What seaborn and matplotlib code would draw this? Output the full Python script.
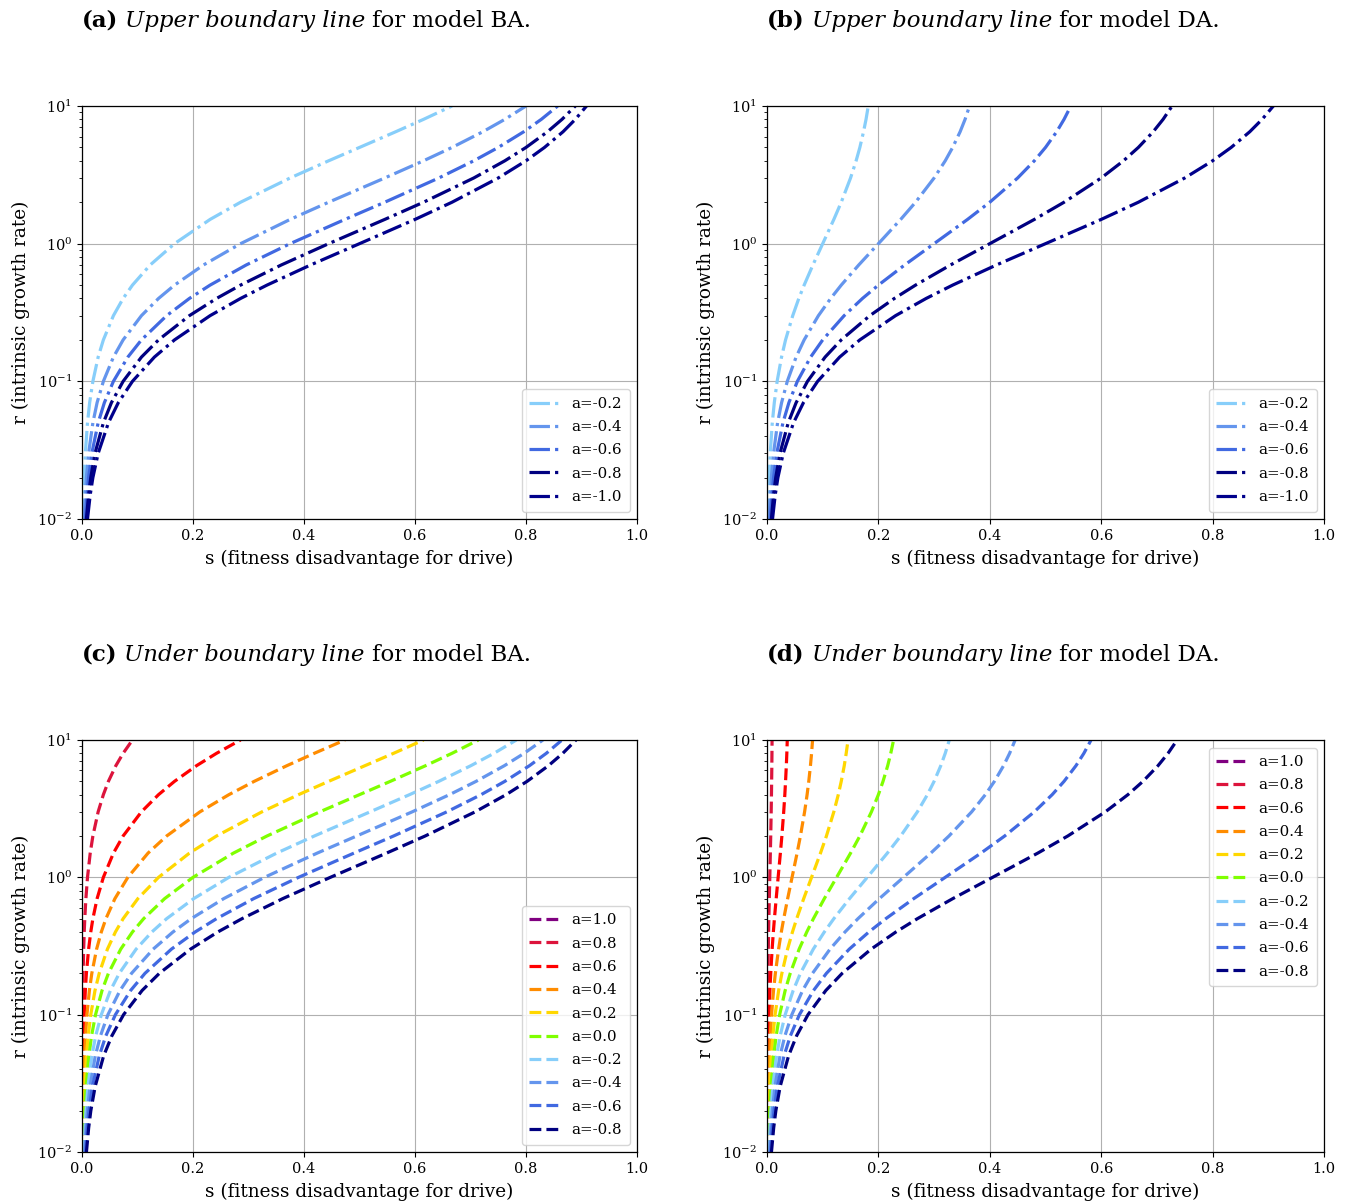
import matplotlib
matplotlib.use("Agg")
import matplotlib.pyplot as plt
import seaborn as sns
import pandas as pd

# r levels (log axis) at which each curve's s position was read
r_levels = [0.01, 0.015, 0.02, 0.03, 0.05, 0.07, 0.1, 0.15, 0.2, 0.3, 0.4, 0.5,
            0.7, 1.0, 1.5, 2.0, 3.0, 4.0, 5.0, 6.5, 8.0, 10.0]

a_upper = [-0.2, -0.4, -0.6, -0.8, -1.0]
a_lower = [1.0, 0.8, 0.6, 0.4, 0.2, 0.0, -0.2, -0.4, -0.6, -0.8]

colors = {1.0: "purple", 0.8: "crimson", 0.6: "red", 0.4: "darkorange", 0.2: "gold",
          0.0: "chartreuse", -0.2: "lightskyblue", -0.4: "cornflowerblue",
          -0.6: "royalblue", -0.8: "navy", -1.0: "darkblue"}

# (a) upper boundary, model BA
s_ba_upper = [
    [0.002, 0.003, 0.004, 0.006, 0.0099, 0.0138, 0.0196, 0.0291, 0.0385, 0.0566, 0.0741,
     0.0909, 0.1228, 0.1667, 0.2308, 0.2857, 0.375, 0.4444, 0.5, 0.5652, 0.6154, 0.6667],
    [0.004, 0.006, 0.0079, 0.0119, 0.0196, 0.0272, 0.0385, 0.0566, 0.0741, 0.1071, 0.1379,
     0.1667, 0.2188, 0.2857, 0.375, 0.4444, 0.5455, 0.6154, 0.6667, 0.7222, 0.7619, 0.8],
    [0.006, 0.0089, 0.0119, 0.0177, 0.0291, 0.0403, 0.0566, 0.0826, 0.1071, 0.1525, 0.1935,
     0.2308, 0.2958, 0.375, 0.4737, 0.5455, 0.6429, 0.7059, 0.75, 0.7959, 0.8276, 0.8571],
    [0.0079, 0.0119, 0.0158, 0.0234, 0.0385, 0.053, 0.0741, 0.1071, 0.1379, 0.1935, 0.2424,
     0.2857, 0.359, 0.4444, 0.5455, 0.6154, 0.7059, 0.7619, 0.8, 0.8387, 0.8649, 0.8889],
    [0.0099, 0.0148, 0.0196, 0.0291, 0.0476, 0.0654, 0.0909, 0.1304, 0.1667, 0.2308, 0.2857,
     0.3333, 0.4118, 0.5, 0.6, 0.6667, 0.75, 0.8, 0.8333, 0.8667, 0.8889, 0.9091],
]

# (b) upper boundary, model DA
s_da_upper = [
    [0.002, 0.003, 0.0039, 0.0058, 0.0095, 0.0131, 0.0182, 0.0261, 0.0333, 0.0462, 0.0571,
     0.0667, 0.0824, 0.1, 0.12, 0.1333, 0.15, 0.16, 0.1667, 0.1733, 0.1778, 0.1818],
    [0.004, 0.0059, 0.0078, 0.0117, 0.019, 0.0262, 0.0364, 0.0522, 0.0667, 0.0923, 0.1143,
     0.1333, 0.1647, 0.2, 0.24, 0.2667, 0.3, 0.32, 0.3333, 0.3467, 0.3556, 0.3636],
    [0.0059, 0.0089, 0.0118, 0.0175, 0.0286, 0.0393, 0.0545, 0.0783, 0.1, 0.1385, 0.1714,
     0.2, 0.2471, 0.3, 0.36, 0.4, 0.45, 0.48, 0.5, 0.52, 0.5333, 0.5455],
    [0.0079, 0.0118, 0.0157, 0.0233, 0.0381, 0.0523, 0.0727, 0.1043, 0.1333, 0.1846, 0.2286,
     0.2667, 0.3294, 0.4, 0.48, 0.5333, 0.6, 0.64, 0.6667, 0.6933, 0.7111, 0.7273],
    [0.0099, 0.0148, 0.0196, 0.0291, 0.0476, 0.0654, 0.0909, 0.1304, 0.1667, 0.2308, 0.2857,
     0.3333, 0.4118, 0.5, 0.6, 0.6667, 0.75, 0.8, 0.8333, 0.8667, 0.8889, 0.9091],
]

# (c) under boundary, model BA  (a=1.0 has no visible curve)
s_ba_lower = [
    [],
    [0.0001, 0.00015, 0.0002, 0.0003, 0.0005, 0.0007, 0.001, 0.0015, 0.002, 0.003, 0.004,
     0.005, 0.007, 0.0099, 0.0148, 0.0196, 0.0291, 0.0385, 0.0476, 0.061, 0.0741, 0.0909],
    [0.0004, 0.0006, 0.0008, 0.0012, 0.002, 0.0028, 0.004, 0.006, 0.0079, 0.0119, 0.0158,
     0.0196, 0.0272, 0.0385, 0.0566, 0.0741, 0.1071, 0.1379, 0.1667, 0.2063, 0.2424, 0.2857],
    [0.0009, 0.00135, 0.0018, 0.0027, 0.0045, 0.0063, 0.0089, 0.0133, 0.0177, 0.0263, 0.0348,
     0.0431, 0.0593, 0.0826, 0.1189, 0.1525, 0.2126, 0.2647, 0.3103, 0.3691, 0.4186, 0.4737],
    [0.0016, 0.0024, 0.0032, 0.0048, 0.0079, 0.0111, 0.0158, 0.0234, 0.031, 0.0458, 0.0602,
     0.0741, 0.1007, 0.1379, 0.1935, 0.2424, 0.3243, 0.3902, 0.4444, 0.5098, 0.5614, 0.6154],
    [0.0025, 0.0037, 0.005, 0.0074, 0.0124, 0.0172, 0.0244, 0.0361, 0.0476, 0.0698, 0.0909,
     0.1111, 0.1489, 0.2, 0.2727, 0.3333, 0.4286, 0.5, 0.5556, 0.619, 0.6667, 0.7143],
    [0.0036, 0.0054, 0.0072, 0.0107, 0.0177, 0.0246, 0.0348, 0.0512, 0.0672, 0.0975, 0.1259,
     0.1525, 0.2013, 0.2647, 0.3506, 0.4186, 0.5192, 0.5902, 0.6429, 0.7006, 0.7423, 0.7826],
    [0.0049, 0.0073, 0.0097, 0.0145, 0.0239, 0.0332, 0.0467, 0.0685, 0.0893, 0.1282, 0.1639,
     0.1968, 0.2554, 0.3289, 0.4236, 0.4949, 0.5951, 0.6622, 0.7101, 0.761, 0.7967, 0.8305],
    [0.0064, 0.0095, 0.0126, 0.0188, 0.031, 0.0429, 0.0602, 0.0876, 0.1135, 0.1611, 0.2038,
     0.2424, 0.3094, 0.3902, 0.4898, 0.5614, 0.6575, 0.7191, 0.7619, 0.8062, 0.8366, 0.8649],
    [0.008, 0.012, 0.0159, 0.0237, 0.0389, 0.0537, 0.0749, 0.1083, 0.1394, 0.1955, 0.2447,
     0.2883, 0.3618, 0.4475, 0.5485, 0.6183, 0.7085, 0.7642, 0.802, 0.8404, 0.8663, 0.8901],
]

# (d) under boundary, model DA
s_da_lower = [
    [],
    [0.0001, 0.00015, 0.0002, 0.0003, 0.00048, 0.00065, 0.00091, 0.0013, 0.00167, 0.00231,
     0.00286, 0.00333, 0.00412, 0.005, 0.006, 0.00667, 0.0075, 0.008, 0.00833, 0.00867,
     0.00889, 0.00909],
    [0.0004, 0.0006, 0.00078, 0.00117, 0.0019, 0.0026, 0.0036, 0.0052, 0.0067, 0.0092, 0.0114,
     0.0133, 0.0165, 0.02, 0.024, 0.0267, 0.03, 0.032, 0.0333, 0.0347, 0.0356, 0.0364],
    [0.0009, 0.0013, 0.0018, 0.0026, 0.0043, 0.0059, 0.0082, 0.0117, 0.015, 0.0208, 0.0257,
     0.03, 0.0371, 0.045, 0.054, 0.06, 0.0675, 0.072, 0.075, 0.078, 0.08, 0.0818],
    [0.0016, 0.0024, 0.0031, 0.0047, 0.0076, 0.0105, 0.0145, 0.0209, 0.0267, 0.0369, 0.0457,
     0.0533, 0.0659, 0.08, 0.096, 0.1067, 0.12, 0.128, 0.1333, 0.1387, 0.1422, 0.1455],
    [0.0025, 0.0037, 0.0049, 0.0073, 0.0119, 0.0164, 0.0227, 0.0326, 0.0417, 0.0577, 0.0714,
     0.0833, 0.1029, 0.125, 0.15, 0.1667, 0.1875, 0.2, 0.2083, 0.2167, 0.2222, 0.2273],
    [0.0036, 0.0053, 0.0071, 0.0105, 0.0171, 0.0236, 0.0327, 0.047, 0.06, 0.0831, 0.1029,
     0.12, 0.1482, 0.18, 0.216, 0.24, 0.27, 0.288, 0.3, 0.312, 0.32, 0.3273],
    [0.0049, 0.0072, 0.0096, 0.0143, 0.0233, 0.0321, 0.0446, 0.0639, 0.0817, 0.1131, 0.14,
     0.1633, 0.2018, 0.245, 0.294, 0.3267, 0.3675, 0.392, 0.4083, 0.4247, 0.4356, 0.4455],
    [0.0063, 0.0095, 0.0126, 0.0186, 0.0305, 0.0419, 0.0582, 0.0835, 0.1067, 0.1477, 0.1829,
     0.2133, 0.2635, 0.32, 0.384, 0.4267, 0.48, 0.512, 0.5333, 0.5547, 0.5689, 0.5818],
    [0.008, 0.012, 0.0159, 0.0236, 0.0386, 0.053, 0.0736, 0.1056, 0.135, 0.1869, 0.2314,
     0.27, 0.3336, 0.405, 0.486, 0.54, 0.6075, 0.648, 0.675, 0.702, 0.72, 0.7364],
]

titles = [("(a)", "Upper boundary line", "for model BA."),
          ("(b)", "Upper boundary line", "for model DA."),
          ("(c)", "Under boundary line", "for model BA."),
          ("(d)", "Under boundary line", "for model DA.")]

sns.set_style("ticks")
plt.rcParams["font.family"] = ["DejaVu Serif"]
plt.rcParams["mathtext.fontset"] = "dejavuserif"
for k in ["text.color", "axes.labelcolor", "xtick.color", "ytick.color"]:
    plt.rcParams[k] = "black"

W, H = 1349, 1204
fig = plt.figure(figsize=(W / 100, H / 100), dpi=100)

# axes boxes in pixels: left, top, right, bottom
boxes = [(82, 106, 637, 519), (767, 106, 1324, 519),
         (82, 740, 637, 1152), (767, 740, 1324, 1152)]
panels = [(a_upper, s_ba_upper, "-.", "lower right"),
          (a_upper, s_da_upper, "-.", "lower right"),
          (a_lower, s_ba_lower, "--", "lower right"),
          (a_lower, s_da_lower, "--", "upper right")]

axes = []
for (l, t, r, b), (avals, slists, ls, loc) in zip(boxes, panels):
    ax = fig.add_axes([l / W, 1 - b / H, (r - l) / W, (b - t) / H])
    axes.append(ax)
    for a, s in zip(avals, slists):
        lab = f"a={a:.1f}"
        if len(s) == 0:
            ax.plot(s, s, ls, color=colors[a], lw=2.3, label=lab)
            continue
        df = pd.DataFrame({"s": s, "r": r_levels[:len(s)]})
        sns.lineplot(data=df, x="s", y="r", ax=ax, color=colors[a], lw=2.3,
                     linestyle=ls, label=lab, sort=False, estimator=None)
    ax.set_yscale("log")
    ax.set_xlim(0, 1)
    ax.set_ylim(0.01, 10)
    ax.set_xticks([0, 0.2, 0.4, 0.6, 0.8, 1.0])
    ax.grid(True, which="major", color="#b0b0b0", lw=0.8)
    ax.tick_params(labelsize=10.5, direction="out")
    ax.set_xlabel("s (fitness disadvantage for drive)", fontsize=13.3, labelpad=5)
    ax.set_ylabel("r (intrinsic growth rate)", fontsize=13.3, labelpad=5)
    for sp in ax.spines.values():
        sp.set_color("black")
        sp.set_linewidth(0.9)
    ax.legend(loc=loc, fontsize=10.8, handlelength=2.0, framealpha=0.8,
              labelspacing=0.62, borderpad=0.5)

# titles made of three pieces: bold label, italic phrase, plain rest
renderer = fig.canvas.get_renderer()
title_pos = [(82, 27), (767, 27), (82, 661), (767, 661)]
for (x0, y0), (p1, p2, p3) in zip(title_pos, titles):
    x = x0
    for txt, kw in [(p1, dict(weight="bold")), (p2, dict(style="italic")), (p3, {})]:
        t = fig.text(x / W, 1 - y0 / H, txt, fontsize=16.5, va="baseline", ha="left", **kw)
        bb = t.get_window_extent(renderer)
        x = bb.x1 + 7

fig.savefig("out.png", dpi=100)
